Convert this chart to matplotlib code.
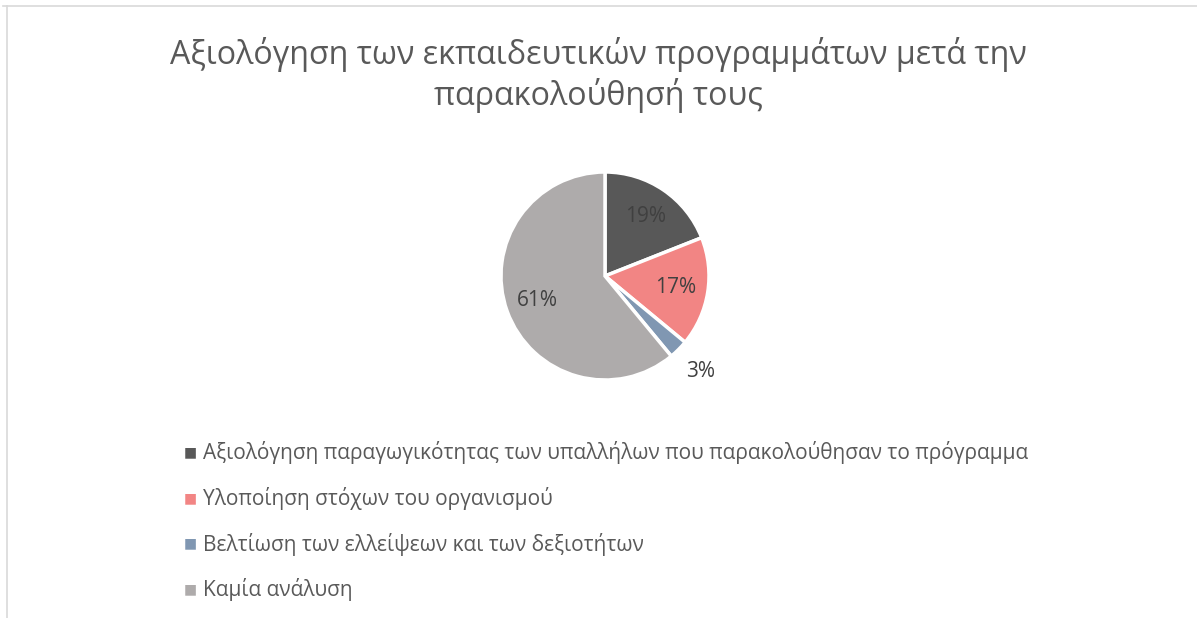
import numpy as np
import matplotlib.pyplot as plt
from matplotlib.lines import Line2D

plt.rcParams['font.family'] = ['Open Sans', 'DejaVu Sans']

# data
categories = [
    "Αξιολόγηση παραγωγικότητας των υπαλλήλων που παρακολούθησαν το πρόγραμμα",
    "Υλοποίηση στόχων του οργανισμού",
    "Βελτίωση των ελλείψεων και των δεξιοτήτων",
    "Καμία ανάλυση",
]
shares = [19, 17, 3, 61]
colors = ["#585858", "#F28584", "#8097B2", "#AEABAB"]
title = "Αξιολόγηση των εκπαιδευτικών προγραμμάτων μετά την\nπαρακολούθησή τους"

W, H = 1197, 618
fig = plt.figure(figsize=(W / 100, H / 100), dpi=100)

# thin frame lines on top and left
fig.add_artist(Line2D([3 / W, 1], [1 - 6 / H, 1 - 6 / H], color="#D9D9D9", lw=1.2))
fig.add_artist(Line2D([7 / W, 7 / W], [0, 1 - 6 / H], color="#D9D9D9", lw=1.2))

fig.text(0.5, 1 - 75 / H, title, ha="center", va="center", fontsize=23.2,
         color="#595959", linespacing=1.25)

# pie placed by pixel box
cx, cy, r = 605, 276, 104
ax = fig.add_axes([(cx - r) / W, (H - cy - r) / H, 2 * r / W, 2 * r / H])
wedges, _ = ax.pie(shares, colors=colors, startangle=90, counterclock=False,
                   wedgeprops=dict(edgecolor="white", linewidth=2.5))
ax.set_xlim(-1, 1)
ax.set_ylim(-1, 1)
ax.set_aspect("equal")
ax.axis("off")

for w, v in zip(wedges, shares):
    mid = np.deg2rad((w.theta1 + w.theta2) / 2)
    d = 1.3 if v < 5 else 0.69
    ax.text(d * np.cos(mid), d * np.sin(mid), f"{v}%", ha="center", va="center",
            fontsize=15, color="#404040", clip_on=False)

# legend rows
for i, (lab, c) in enumerate(zip(categories, colors)):
    y = 1 - (453 + i * 45.5) / H
    fig.text(190 / W, y, "■", ha="center", va="center", fontsize=10, color=c)
    fig.text(203 / W, y, lab, ha="left", va="center", fontsize=15, color="#595959")

fig.savefig("out.png", dpi=100, facecolor="white")
